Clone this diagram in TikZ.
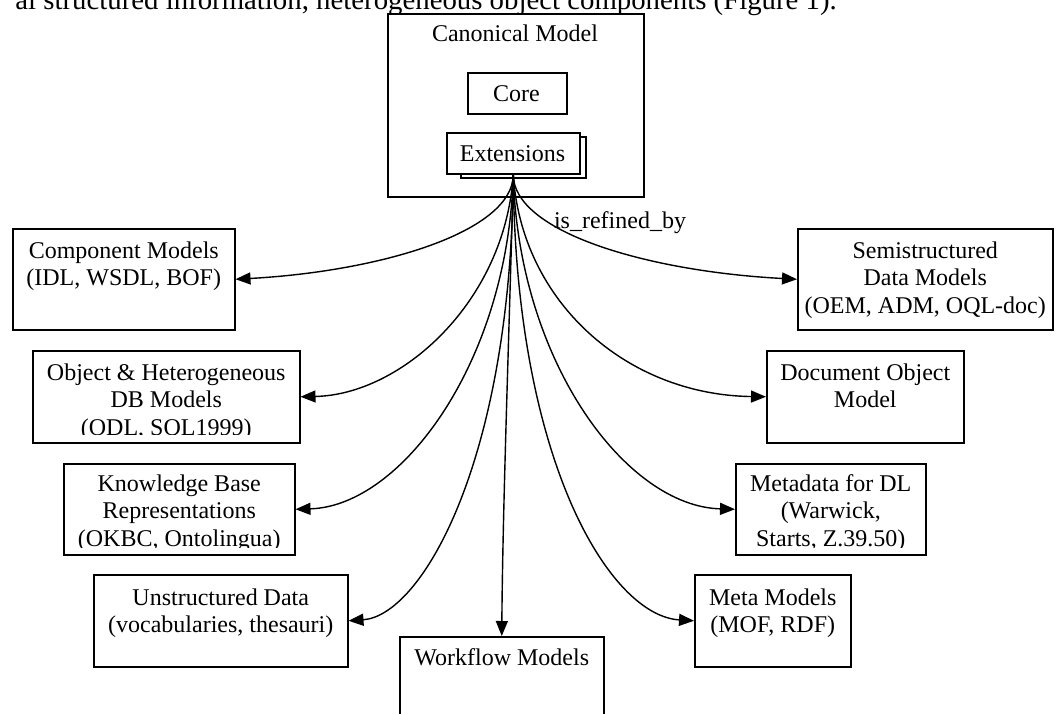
\documentclass[tikz,border=0pt]{standalone}
\usepackage{fontspec}
\setmainfont{Liberation Serif}
\usetikzlibrary{arrows.meta}
\newcommand{\fsz}{\fontsize{24}{27.5}\selectfont}
\newcommand{\fbody}{\fontsize{28.8}{33}\selectfont}
\begin{document}
\begin{tikzpicture}[x=1pt,y=-1pt,
  box/.style={draw,line width=1.5pt,fill=white,inner sep=0pt,anchor=north west},
  txt/.style={font=\fsz,align=center,inner sep=0pt,anchor=north},
  lbl/.style={font=\fsz,inner sep=0pt,anchor=base},
  arr/.style={-{Triangle[length=15pt,width=12pt]},line width=1.4pt}]
\useasboundingbox (0,0) rectangle (1062,713);
\clip (0,0) rectangle (1062,713);

% top sentence (cut by the page)
\node[font=\fbody,inner sep=0pt,anchor=base east] (sent) at (837,9) {al structured information, heterogeneous object components (Figure 1).};

% canonical model
\node[box,minimum width=256pt,minimum height=183pt] (canon) at (387,13) {};
\node[box,minimum width=99pt,minimum height=41pt] (core) at (467,72) {};
\node[box,minimum width=125pt,minimum height=41pt] (extb) at (460,136) {};
\node[box,minimum width=133pt,minimum height=41pt] (ext) at (446,132) {};
\node[lbl] (canonT) at (515,41) {Canonical Model};
\node[lbl] (coreT) at (516.5,101) {Core};
\node[lbl] (extT) at (512.5,161) {Extensions};

% target boxes
\node[box,minimum width=222pt,minimum height=101pt] (comp) at (12,228) {};
\node[box,minimum width=255pt,minimum height=101pt] (semi) at (797,228) {};
\node[box,minimum width=267pt,minimum height=92pt] (obj) at (32,350) {};
\node[box,minimum width=197pt,minimum height=92pt] (dom) at (766,350) {};
\node[box,minimum width=231pt,minimum height=91pt] (kb) at (63,463) {};
\node[box,minimum width=190pt,minimum height=91pt] (meta) at (735,463) {};
\node[box,minimum width=254pt,minimum height=92pt] (unst) at (93,574) {};
\node[box,minimum width=156pt,minimum height=92pt] (mm) at (694,574) {};
\node[box,minimum width=204pt,minimum height=120pt] (wf) at (399,636) {};

% connectors
\coordinate (o) at (ext.south);
\draw[arr] (o) .. controls +(0,57) and +(146,-8) .. (comp.east);
\draw[arr] (o) .. controls +(0,57) and +(-151,-8) .. (semi.west);
\draw[arr] (o) .. controls +(-8,127) and +(101,-2) .. (obj.east);
\draw[arr] (o) .. controls +(8,127) and +(-140,-2) .. (dom.west);
\draw[arr] (o) .. controls +(-5,187) and +(106,-3) .. (kb.east);
\draw[arr] (o) .. controls +(5,187) and +(-109,-3) .. (meta.west);
\draw[arr] (o) .. controls +(-2,287) and +(73,-5) .. (unst.east);
\draw[arr] (o) .. controls +(2,287) and +(-84,-5) .. (mm.west);
\draw[arr] (o) .. controls +(-3,127) and +(1,-136) .. (wf.north);
\node[lbl] (refined) at (620,228) {is\_refined\_by};

% box texts
\node[txt] (compT) at ([yshift=-10.75pt]comp.north) {\strut Component Models\\(IDL, WSDL, BOF)};
\node[txt] (semiT) at ([yshift=-10.75pt]semi.north) {\strut Semistructured\\Data Models\\(OEM, ADM, OQL-doc)};
\begin{scope}
\clip (obj.north west) rectangle ([yshift=9pt]obj.south east);
\node[txt] (objT) at ([yshift=-10.75pt]obj.north) {\strut Object \& Heterogeneous\\DB Models\\(ODL, SQL1999)};
\end{scope}
\node[txt] (domT) at ([yshift=-10.75pt]dom.north) {\strut Document Object\\Model};
\begin{scope}
\clip (kb.north west) rectangle ([yshift=8pt]kb.south east);
\node[txt] (kbT) at ([yshift=-8.75pt]kb.north) {\strut Knowledge Base\\Representations\\(OKBC, Ontolingua)};
\end{scope}
\begin{scope}
\clip (meta.north west) rectangle ([yshift=8pt]meta.south east);
\node[txt] (metaT) at ([yshift=-8.75pt]meta.north) {\strut Metadata for DL\\(Warwick,\\Starts, Z.39.50)};
\end{scope}
\node[txt] (unstT) at ([yshift=-11.75pt]unst.north) {\strut Unstructured Data\\(vocabularies, thesauri)};
\node[txt] (mmT) at ([yshift=-11.75pt]mm.north) {\strut Meta Models\\(MOF, RDF)};
\node[txt] (wfT) at ([yshift=-9.75pt]wf.north) {\strut Workflow Models};
\end{tikzpicture}
\end{document}
